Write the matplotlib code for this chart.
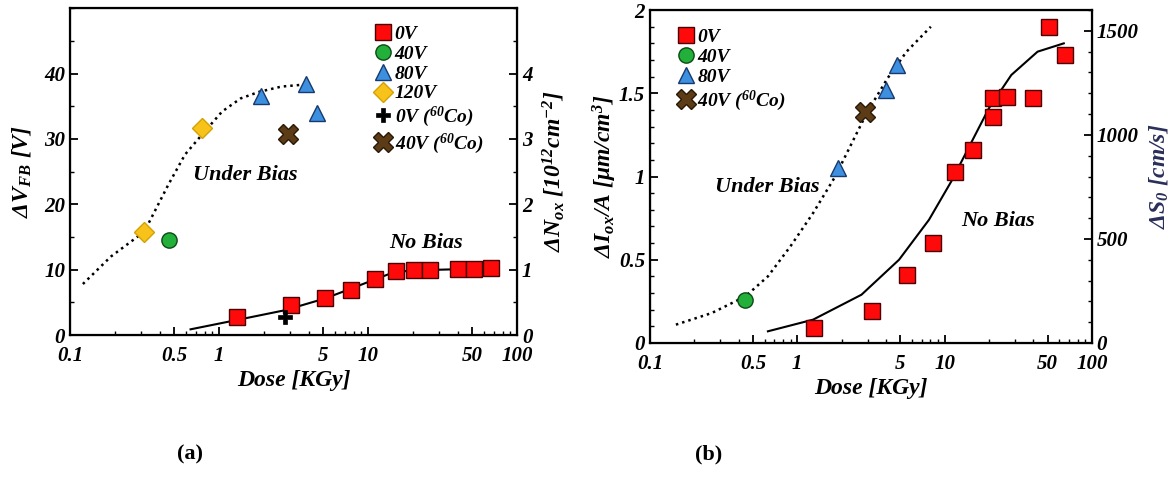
import numpy as np
import matplotlib
matplotlib.use('Agg')
import matplotlib.pyplot as plt
from matplotlib.ticker import FixedLocator, FixedFormatter, LogLocator, MultipleLocator, NullFormatter

plt.rcParams['font.family'] = 'Liberation Serif'
plt.rcParams['font.weight'] = 'bold'
plt.rcParams['font.style'] = 'italic'
plt.rcParams['axes.labelweight'] = 'bold'
plt.rcParams['mathtext.fontset'] = 'custom'
plt.rcParams['mathtext.rm'] = 'Liberation Serif:bold:italic'
plt.rcParams['mathtext.it'] = 'Liberation Serif:bold:italic'
plt.rcParams['mathtext.bf'] = 'Liberation Serif:bold:italic'

# ---- panel (a) data ----
a_0v_dose = [1.32, 3.03, 5.16, 7.7, 11.1, 15.3, 20.4, 26.0, 39.9, 51.7, 67.0]
a_0v_vfb = [2.8, 4.6, 5.6, 6.9, 8.5, 9.8, 9.95, 9.95, 10.1, 10.1, 10.2]
a_40v_dose = [0.462]
a_40v_vfb = [14.5]
a_80v_dose = [1.91, 3.81, 4.57]
a_80v_vfb = [36.5, 38.4, 33.9]
a_120v_dose = [0.315, 0.765]
a_120v_vfb = [15.8, 31.6]
a_0vco_dose = [2.78]
a_0vco_vfb = [2.8]
a_40vco_dose = [2.9]
a_40vco_vfb = [30.7]
a_bias_dose = [0.122, 0.188, 0.315, 0.457, 0.591, 0.765, 1.05, 1.40, 1.86, 2.62, 3.70]
a_bias_vfb = [7.8, 12.0, 15.8, 23.0, 27.6, 30.6, 34.2, 36.2, 37.2, 38.0, 38.3]
a_nobias_dose = [0.644, 1.32, 2.78, 5.16, 7.7, 11.1, 15.3, 26.0, 67.0]
a_nobias_vfb = [0.87, 2.3, 3.8, 5.6, 7.1, 8.5, 9.7, 9.95, 10.2]

# ---- panel (b) data ----
b_0v_dose = [1.29, 3.22, 5.58, 8.31, 11.7, 15.6, 21.2, 21.2, 26.5, 39.9, 51.0, 65.3]
b_0v_ioa = [0.09, 0.19, 0.41, 0.60, 1.03, 1.16, 1.36, 1.47, 1.48, 1.47, 1.90, 1.73]
b_40v_dose = [0.445]
b_40v_ioa = [0.258]
b_80v_dose = [1.90, 4.0, 4.77]
b_80v_ioa = [1.05, 1.52, 1.67]
b_40vco_dose = [2.90]
b_40vco_ioa = [1.39]
b_bias_dose = [0.15, 0.263, 0.445, 0.632, 0.898, 1.28, 1.81, 2.5, 3.0, 4.1, 5.52, 8.07]
b_bias_ioa = [0.11, 0.18, 0.28, 0.40, 0.58, 0.78, 1.0, 1.25, 1.39, 1.59, 1.75, 1.90]
b_nobias_dose = [0.632, 1.28, 2.73, 4.91, 7.84, 11.1, 14.9, 20.0, 28.4, 42.8, 64.5]
b_nobias_ioa = [0.07, 0.14, 0.29, 0.50, 0.74, 0.97, 1.19, 1.41, 1.61, 1.75, 1.80]

x_ticks = [0.1, 0.5, 1, 5, 10, 50, 100]
x_labels = ['0.1', '0.5', '1', '5', '10', '50', '100']

red = dict(marker='s', ms=11.5, mfc='#ff0a0a', mec='#4a0000', mew=1.0, ls='none')
green = dict(marker='o', ms=11, mfc='#22b03a', mec='#0c4a16', mew=1.0, ls='none')
blue = dict(marker='^', ms=12, mfc='#3d8fe0', mec='#173a6e', mew=1.0, ls='none')
yellow = dict(marker='D', ms=10, mfc='#f7c31a', mec='#d6a000', mew=1.0, ls='none')
plus = dict(marker='P', ms=10, mfc='black', mec='black', mew=0.5, ls='none')
brown = dict(marker='X', ms=14, mfc='#5c3b17', mec='#2a1906', mew=1.0, ls='none')

leg_kw = dict(loc='upper left', frameon=False, handletextpad=0.15, labelspacing=0.12,
              handlelength=0.9, borderpad=0.2, prop={'size': 14, 'weight': 'bold', 'style': 'italic'})


def style_axes(ax):
    ax.set_xscale('log')
    ax.set_xlim(0.1, 100)
    ax.xaxis.set_major_locator(FixedLocator(x_ticks))
    ax.xaxis.set_major_formatter(FixedFormatter(x_labels))
    ax.xaxis.set_minor_locator(LogLocator(base=10, subs=[2, 3, 4, 6, 7, 8, 9]))
    ax.xaxis.set_minor_formatter(NullFormatter())
    ax.tick_params(which='both', direction='in', top=False, right=False, labelsize=15)
    ax.tick_params(axis='x', which='major', pad=8)
    ax.tick_params(which='major', length=6, width=1.3)
    ax.tick_params(which='minor', length=3, width=1.0)
    for s in ax.spines.values():
        s.set_linewidth(1.6)
    ax.set_xlabel('Dose [KGy]', fontsize=17, labelpad=3)


fig = plt.figure(figsize=(11.69, 4.79), dpi=100)

# ---------------- panel (a) ----------------
ax1 = fig.add_axes([0.0599, 0.3006, 0.3824, 0.6824])
style_axes(ax1)
ax1.set_ylim(0, 50)
ax1.yaxis.set_major_locator(FixedLocator([0, 10, 20, 30, 40]))
ax1.yaxis.set_minor_locator(MultipleLocator(5))
ax1.plot(a_bias_dose, a_bias_vfb, ls=(0, (1, 1.6)), color='black', lw=1.8)
ax1.plot(a_nobias_dose, a_nobias_vfb, ls='-', color='black', lw=1.5)
ax1.plot(a_0v_dose, a_0v_vfb, label='0V', **red)
ax1.plot(a_40v_dose, a_40v_vfb, label='40V', **green)
ax1.plot(a_80v_dose, a_80v_vfb, label='80V', **blue)
ax1.plot(a_120v_dose, a_120v_vfb, label='120V', **yellow)
ax1.plot(a_0vco_dose, a_0vco_vfb, label='0V ($^{60}$Co)', **plus)
ax1.plot(a_40vco_dose, a_40vco_vfb, label='40V ($^{60}$Co)', **brown)
ax1.text(1.5, 24.5, 'Under Bias', fontsize=16, ha='center', va='center')
ax1.text(24.5, 14.0, 'No Bias', fontsize=16, ha='center', va='center')
ax1.set_ylabel('ΔV$_{FB}$ [V]', fontsize=17, labelpad=8)
ax1.legend(bbox_to_anchor=(0.65, 0.99), **leg_kw)

ax1r = ax1.twinx()
ax1r.set_ylim(0, 5)
ax1r.yaxis.set_major_locator(FixedLocator([0, 1, 2, 3, 4]))
ax1r.yaxis.set_minor_locator(MultipleLocator(0.5))
ax1r.tick_params(which='both', direction='in', labelsize=15)
ax1r.tick_params(which='major', length=6, width=1.3)
ax1r.tick_params(which='minor', length=3, width=1.0)
ax1r.set_ylabel('ΔN$_{ox}$ [10$^{12}$cm$^{-2}$]', fontsize=17, labelpad=6)

# ---------------- panel (b) ----------------
ax2 = fig.add_axes([0.556, 0.284, 0.378, 0.695])
style_axes(ax2)
ax2.set_ylim(0, 2)
ax2.yaxis.set_major_locator(FixedLocator([0, 0.5, 1, 1.5, 2]))
ax2.yaxis.set_major_formatter(FixedFormatter(['0', '0.5', '1', '1.5', '2']))
ax2.yaxis.set_minor_locator(MultipleLocator(0.1))
ax2.plot(b_bias_dose, b_bias_ioa, ls=(0, (1, 1.6)), color='black', lw=1.8)
ax2.plot(b_nobias_dose, b_nobias_ioa, ls='-', color='black', lw=1.5)
ax2.plot(b_0v_dose, b_0v_ioa, label='0V', **red)
ax2.plot(b_40v_dose, b_40v_ioa, label='40V', **green)
ax2.plot(b_80v_dose, b_80v_ioa, label='80V', **blue)
ax2.plot(b_40vco_dose, b_40vco_ioa, label='40V ($^{60}$Co)', **brown)
ax2.text(0.63, 0.935, 'Under Bias', fontsize=16, ha='center', va='center')
ax2.text(23.2, 0.73, 'No Bias', fontsize=16, ha='center', va='center')
ax2.set_ylabel('ΔI$_{ox}$/A [μm/cm$^{3}$]', fontsize=17, labelpad=0)
ax2.legend(bbox_to_anchor=(0.03, 0.985), **leg_kw)

ax2r = ax2.twinx()
ax2r.set_ylim(0, 1600)
ax2r.yaxis.set_major_locator(FixedLocator([0, 500, 1000, 1500]))
ax2r.yaxis.set_minor_locator(MultipleLocator(100))
ax2r.tick_params(which='both', direction='in', labelsize=15)
ax2r.tick_params(which='major', length=6, width=1.3)
ax2r.tick_params(which='minor', length=3, width=1.0)
ax2r.set_ylabel('ΔS$_{0}$ [cm/s]', fontsize=17, labelpad=6, color='#2a2f5a')

fig.text(0.1625, 0.04, '(a)', fontsize=16, fontweight='bold', fontstyle='normal', ha='center')
fig.text(0.606, 0.04, '(b)', fontsize=16, fontweight='bold', fontstyle='normal', ha='center')

fig.savefig('out.png', dpi=100)
